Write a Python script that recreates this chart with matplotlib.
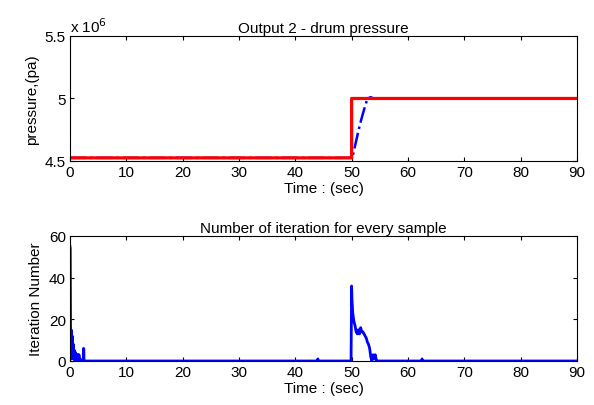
import numpy as np
import matplotlib.pyplot as plt

plt.rcParams['font.family'] = ['Liberation Sans', 'DejaVu Sans']

# --- data ---
# top: set point (red) and drum pressure output (blue dash-dot)
sp_t = [0, 50, 50, 90]
sp_p = [4.525e6, 4.525e6, 5.0e6, 5.0e6]

out_t = [0, 50.0, 50.3, 50.7, 51.2, 51.7, 52.2, 52.6, 53.0, 53.4, 53.9, 90]
out_p = [4.525e6, 4.525e6, 4.56e6, 4.64e6, 4.74e6, 4.83e6, 4.91e6, 4.97e6, 5.005e6, 5.01e6, 5.0e6, 5.0e6]

# bottom: iteration number for every sample
it_t = [0, 0.05, 0.1, 0.15, 0.2, 0.3, 0.4, 0.5, 0.6, 0.7, 0.8, 0.9, 1.0, 1.1, 1.2,
        1.3, 1.4, 1.5, 1.6, 1.7, 1.8, 2.0,
        2.35, 2.4, 2.45, 2.5,
        43.9, 44.0, 44.1,
        49.9, 50.0, 50.05, 50.2, 50.4, 50.6, 50.8, 51.0, 51.2, 51.4, 51.6, 51.8,
        52.0, 52.2, 52.4, 52.6, 52.8, 53.0, 53.2, 53.4, 53.6, 53.8, 54.0, 54.2, 54.4, 54.6,
        62.4, 62.5, 62.6, 90]
it_n = [55, 54, 18, 2, 15, 1, 12, 2, 8, 1, 5, 0, 4, 1, 3,
        0, 3, 1, 3, 0, 1, 0,
        0, 6, 6, 0,
        0, 1, 0,
        0, 36, 30, 23, 19, 17, 14, 13, 15, 13, 16, 14,
        14, 13, 12, 11, 9, 8, 6, 2, 0, 3, 1, 3, 0, 0,
        0, 1, 0, 0]

fig = plt.figure(figsize=(5.94, 4.06), dpi=100)
ax1 = fig.add_axes([0.1178, 0.601, 0.8535, 0.308])
ax2 = fig.add_axes([0.1178, 0.1084, 0.8535, 0.3079])

ax1.plot(out_t, out_p, color='blue', lw=1.8, ls='-.', snap=False)
ax1.plot(sp_t, sp_p, color='red', lw=2.3, snap=False)
ax1.set_xlim(0, 90)
ax1.set_ylim(4.5e6, 5.5e6)
ax1.set_xticks(range(0, 91, 10))
ax1.set_yticks([4.5e6, 5.0e6, 5.5e6])
ax1.set_yticklabels(['4.5', '5', '5.5'])
ax1.text(0, 1.03, r'x 10$^6$', transform=ax1.transAxes, fontsize=11)
ax1.set_title('Output 2 - drum pressure', fontsize=11, pad=3)
ax1.set_ylabel('pressure,(pa)', fontsize=11)
ax1.set_xlabel('Time : (sec)', fontsize=11, labelpad=1)

ax2.plot(it_t, it_n, color='blue', lw=2)
ax2.set_xlim(0, 90)
ax2.set_ylim(0, 60)
ax2.set_xticks(range(0, 91, 10))
ax2.set_yticks([0, 20, 40, 60])
ax2.set_title('Number of iteration for every sample', fontsize=11, pad=3)
ax2.set_ylabel('Iteration Number', fontsize=11)
ax2.set_xlabel('Time : (sec)', fontsize=11, labelpad=1)

for ax in (ax1, ax2):
    ax.tick_params(direction='in', top=True, right=True, labelsize=11, length=3, pad=3)

plt.savefig('out.png', dpi=100)
